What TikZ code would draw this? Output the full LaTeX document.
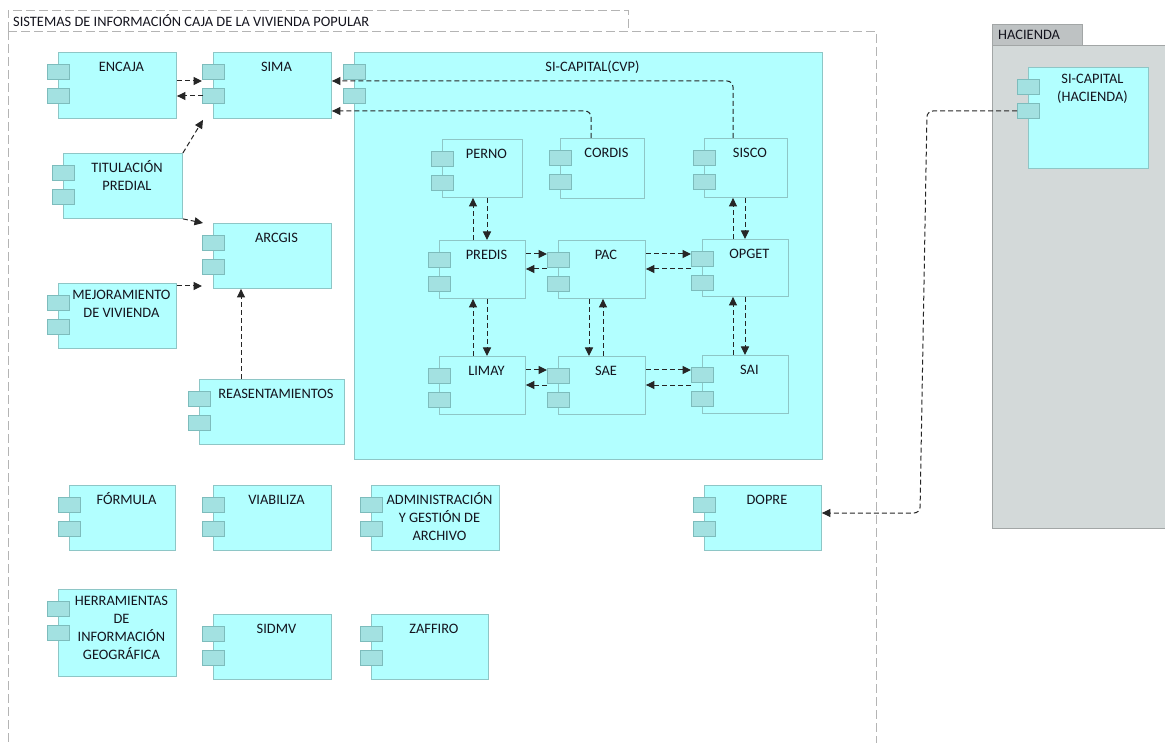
\documentclass[tikz,border=0pt]{standalone}
\usepackage{fontspec}
\setmainfont{Carlito}
\usetikzlibrary{calc,arrows.meta}
\definecolor{compfill}{HTML}{B2FFFF}
\definecolor{compborder}{HTML}{8EC6C6}
\definecolor{portfill}{HTML}{A3E1E1}
\definecolor{portborder}{HTML}{7DBCBC}
\definecolor{hacfill}{HTML}{D3D9D9}
\definecolor{hacborder}{HTML}{A2A6A6}
\definecolor{tabfill}{HTML}{BEC2C3}
\definecolor{txt}{HTML}{14141E}
\definecolor{frame}{HTML}{B4B4B4}
\tikzset{
  comp/.style={draw=compborder, fill=compfill, line width=0.9pt, inner sep=0, anchor=north west},
  port/.style={draw=portborder, fill=portfill, line width=0.8pt, minimum width=22pt, minimum height=15pt, inner sep=0, anchor=north west},
  lbl/.style={font=\fontsize{14.4}{18}\selectfont, text=txt, align=center, inner sep=0, anchor=north, execute at begin node=\strut},
  conn/.style={draw=black!85, line width=1pt, dash pattern=on 5pt off 3pt, -{Triangle[length=8.5pt,width=8pt]}},
  pkg/.style={draw=frame, line width=0.8pt, dash pattern=on 9pt off 4pt},
}
\newcommand\mkcomp[6]{%
  \node[comp, minimum width=#4pt, minimum height=#5pt] (#1) at (#2,#3) {};
  \node[port] (#1p1) at (#2-11,#3+12) {};
  \node[port] (#1p2) at (#2-11,#3+36) {};
  \node[lbl] (#1t) at ([xshift=4pt,yshift=-7pt]#1.north) {#6};
}
\begin{document}
\begin{tikzpicture}[x=1pt,y=-1pt]
\useasboundingbox (0,0) rectangle (1165,743);
% outer package
\draw[pkg] (8,31) -- (8,10) -- (628,10) -- (628,31);
\draw[pkg] (8,31) -- (876,31) -- (876,750);
\draw[pkg] (8,31) -- (8,750);
\node[font=\fontsize{14.4}{18}\selectfont, text=txt, anchor=west, inner sep=0] (pkgtitle) at (13,21) {SISTEMAS DE INFORMACIÓN CAJA DE LA VIVIENDA POPULAR};
% hacienda package
\node[draw=hacborder, fill=hacfill, line width=0.9pt, minimum width=180pt, minimum height=483pt, anchor=north west, inner sep=0] (hac) at (992,45) {};
\node[draw=hacborder, fill=tabfill, line width=0.9pt, minimum width=90pt, minimum height=21pt, anchor=north west, inner sep=0] (hactab) at (992,24) {};
\node[font=\fontsize{14.4}{18}\selectfont, text=txt, anchor=west, inner sep=0] (hactitle) at (998,35) {HACIENDA};
% components
\mkcomp{encaja}{58}{52}{118}{66}{ENCAJA}
\mkcomp{sima}{213}{52}{118}{66}{SIMA}
\mkcomp{sicap}{354}{52}{468}{407}{SI-CAPITAL(CVP)}
\mkcomp{titul}{63}{153}{119}{65}{TITULACIÓN\\PREDIAL}
\mkcomp{arcgis}{213}{223}{118}{65}{ARCGIS}
\mkcomp{mejor}{58}{283}{118}{65}{MEJORAMIENTO\\DE VIVIENDA}
\mkcomp{reas}{199}{379}{145}{65}{REASENTAMIENTOS}
\mkcomp{perno}{442}{139}{80}{58}{PERNO}
\mkcomp{cordis}{560}{138}{84}{60}{CORDIS}
\mkcomp{sisco}{704}{138}{83}{59}{SISCO}
\mkcomp{predis}{439}{240}{86}{58}{PREDIS}
\mkcomp{pac}{558}{240}{87}{58}{PAC}
\mkcomp{opget}{702}{239}{86}{57}{OPGET}
\mkcomp{limay}{439}{356}{86}{58}{LIMAY}
\mkcomp{sae}{558}{356}{87}{58}{SAE}
\mkcomp{sai}{702}{355}{86}{58}{SAI}
\mkcomp{formula}{69}{485}{106}{65}{FÓRMULA}
\mkcomp{viabiliza}{213}{485}{118}{65}{VIABILIZA}
\mkcomp{admin}{371}{485}{128}{65}{ADMINISTRACIÓN\\Y GESTIÓN DE\\ARCHIVO}
\mkcomp{herr}{58}{589}{118}{87}{HERRAMIENTAS\\DE\\INFORMACIÓN\\GEOGRÁFICA}
\mkcomp{sidmv}{213}{614}{118}{65}{SIDMV}
\mkcomp{zaffiro}{371}{614}{117}{65}{ZAFFIRO}
\mkcomp{dopre}{704}{485}{117}{65}{DOPRE}
\mkcomp{sicaph}{1028}{67}{120}{101}{SI-CAPITAL\\(HACIENDA)}
% connectors left area
\draw[conn] ($(encaja.north east)+(0,29)$) coordinate (c1) -- (c1 -| simap1.west);
\draw[conn] ($(sima.north west)+(-10,44)$) coordinate (c2) -- (c2 -| encaja.east);
\draw[conn] (titul.north east) -- ($(sima.south west)+(-10,1)$);
\draw[conn] (titul.south east) -- ($(arcgis.north west)+(-10,0)$);
\draw[conn] ($(mejor.north east)+(0,3)$) coordinate (c3) -- (c3 -| arcgisp2.west);
\draw[conn] ($(reas.north west)+(42,0)$) coordinate (c4) -- (c4 |- arcgis.south);
% SI-CAPITAL to SIMA
\draw[conn, rounded corners=6pt] ($(sisco.north west)+(29,0)$) |- ($(sima.north east)+(0,29)$);
\draw[conn, rounded corners=6pt] ($(cordis.north west)+(31,0)$) |- ($(sima.north east)+(0,59)$);
% vertical pairs
\draw[conn] ($(predis.north west)+(34,0)$) coordinate (v1) -- (v1 |- perno.south);
\draw[conn] ($(predis.north west)+(48,0)$) coordinate (v2) (v2 |- perno.south) -- (v2);
\draw[conn] ($(limay.north west)+(34,0)$) coordinate (v3) -- (v3 |- predis.south);
\draw[conn] ($(limay.north west)+(48,0)$) coordinate (v4) (v4 |- predis.south) -- (v4);
\draw[conn] ($(pac.south west)+(31,0)$) coordinate (v5) -- (v5 |- sae.north);
\draw[conn] ($(sae.north west)+(45,0)$) coordinate (v6) -- (v6 |- pac.south);
\draw[conn] ($(opget.north west)+(31,0)$) coordinate (v7) -- (v7 |- sisco.south);
\draw[conn] ($(opget.north west)+(43,0)$) coordinate (v8) (v8 |- sisco.south) -- (v8);
\draw[conn] ($(sai.north west)+(31,0)$) coordinate (v9) -- (v9 |- opget.south);
\draw[conn] ($(sai.north west)+(43,0)$) coordinate (v10) (v10 |- opget.south) -- (v10);
% horizontal pairs
\draw[conn] ($(predis.north east)+(0,14)$) coordinate (h1) -- (h1 -| pacp1.west);
\draw[conn] ($(predis.north east)+(0,29)$) coordinate (h2) (h2 -| pacp1.west) -- (h2);
\draw[conn] ($(pac.north east)+(0,14)$) coordinate (h3) -- (h3 -| opgetp1.west);
\draw[conn] ($(pac.north east)+(0,29)$) coordinate (h4) (h4 -| opgetp1.west) -- (h4);
\draw[conn] ($(limay.north east)+(0,14)$) coordinate (h5) -- (h5 -| saep1.west);
\draw[conn] ($(limay.north east)+(0,29)$) coordinate (h6) (h6 -| saep1.west) -- (h6);
\draw[conn] ($(sae.north east)+(0,14)$) coordinate (h7) -- (h7 -| saip1.west);
\draw[conn] ($(sae.north east)+(0,29)$) coordinate (h8) (h8 -| saip1.west) -- (h8);
% hacienda to dopre
\coordinate (k1) at (927,111);
\coordinate (k2) at (920,513);
\draw[conn, rounded corners=6pt] (sicaphp2.west) -- (k1) -- (k2) -- (k2 -| dopre.east);
\end{tikzpicture}
\end{document}
